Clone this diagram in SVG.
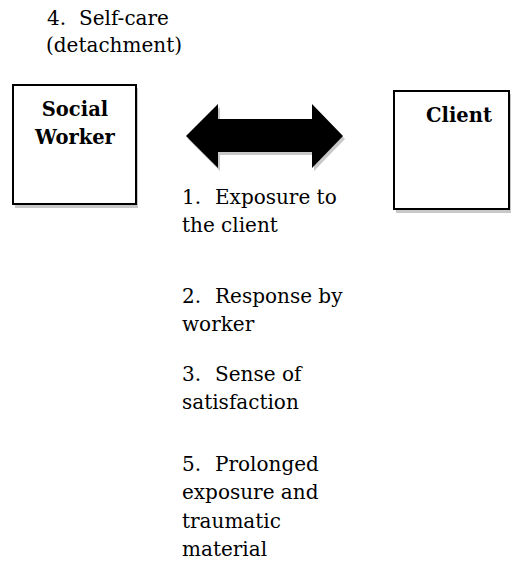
<svg xmlns="http://www.w3.org/2000/svg" width="511" height="563" viewBox="0 0 511 563">
<defs>
<style>
text{font-family:'DejaVu Serif',serif;font-size:20px;fill:#000}
.b{font-size:19.5px;font-weight:bold;text-anchor:middle}
.box{fill:#fff;stroke:#000;stroke-width:2}
.sh{fill:#c8c8c8}
</style>
</defs>
<rect width="511" height="563" fill="#fff"/>
<g id="connectors">
<polygon class="sh" points="188,139 220,107 220,122 314,122 314,107 345,139 314,171 314,155 220,155 220,171"/>
<polygon id="double-arrow" fill="#000" points="186,136 218,104 218,119 312,119 312,104 343,136 312,168 312,152 218,152 218,168"/>
</g>
<g id="social-worker">
<rect class="sh" x="15" y="88" width="123" height="120"/>
<rect class="box" x="13" y="85" width="123" height="119"/>
<text class="b" x="75" y="116">Social</text>
<text class="b" x="75" y="144">Worker</text>
</g>
<g id="client">
<rect class="sh" x="396" y="94" width="120" height="119"/>
<rect class="box" x="394" y="91" width="115" height="118"/>
<text class="b" x="459" y="122">Client</text>
</g>
<g id="label-4">
<text><tspan x="47" y="25">4.</tspan><tspan x="79" y="25">Self-care</tspan><tspan x="46" y="52">(detachment)</tspan></text>
</g>
<g id="label-1">
<text><tspan x="182" y="204">1.</tspan><tspan x="215" y="204">Exposure to</tspan><tspan x="182" y="232">the client</tspan></text>
</g>
<g id="label-2">
<text><tspan x="182" y="303">2.</tspan><tspan x="215" y="303">Response by</tspan><tspan x="182" y="331">worker</tspan></text>
</g>
<g id="label-3">
<text><tspan x="182" y="381">3.</tspan><tspan x="215" y="381">Sense of</tspan><tspan x="182" y="409">satisfaction</tspan></text>
</g>
<g id="label-5">
<text><tspan x="182" y="471">5.</tspan><tspan x="215" y="471">Prolonged</tspan><tspan x="182" y="499">exposure and</tspan><tspan x="182" y="528">traumatic</tspan><tspan x="182" y="556">material</tspan></text>
</g>
</svg>
